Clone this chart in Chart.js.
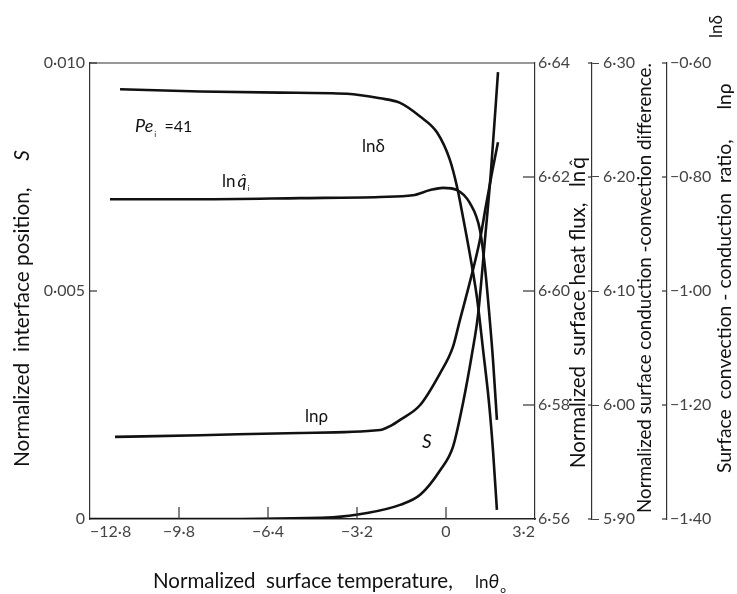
<!DOCTYPE html>
<html><head><meta charset="utf-8">
<script src="https://cdn.jsdelivr.net/npm/chart.js@4.4.0/dist/chart.umd.min.js"></script>
<style>html,body{margin:0;padding:0;background:#fff;}#wrap{width:737px;height:594px;}</style>
</head><body><div id="wrap"><canvas id="c" width="737" height="594"></canvas></div>
<script>
// ---- data ----
const xTicks = [-12.8, -9.6, -6.4, -3.2, 0, 3.2];
const xTickLabels = ['\u221212\u00b78', '\u22129\u00b78', '\u22126\u00b74', '\u22123\u00b72', '0', '3\u00b72'];
const sTicks = [0, 0.005, 0.010];
const sTickLabels = ['0', '0\u00b7005', '0\u00b7010'];
const qTicks = [6.56, 6.58, 6.60, 6.62, 6.64];
const qTickLabels = ['6\u00b756', '6\u00b758', '6\u00b760', '6\u00b762', '6\u00b764'];
const dTicks = [5.90, 6.00, 6.10, 6.20, 6.30];
const dTickLabels = ['5\u00b790', '6\u00b700', '6\u00b710', '6\u00b720', '6\u00b730'];
const rTicks = [-1.40, -1.20, -1.00, -0.80, -0.60];
const rTickLabels = ['\u22121\u00b740', '\u22121\u00b720', '\u22121\u00b700', '\u22120\u00b780', '\u22120\u00b760'];

// S : normalized interface position (left axis)
const xS    = [-12.8, -8.84, -4.06, -2.84, -1.65, -0.93, -0.21, 0.25, 0.61, 0.94, 1.15, 1.40, 1.62, 1.87];
const sVals = [0, 0, 0.00004, 0.00013, 0.00031, 0.00053, 0.00107, 0.00158, 0.00254, 0.00364, 0.00447, 0.00612, 0.00765, 0.00980];
// ln q-hat : normalized surface heat flux (axis 1)
const xQ    = [-12.08, -8.84, -5.25, -2.37, -1.19, -0.57, -0.11, 0.40, 0.86, 1.22, 1.40, 1.55, 1.69, 1.83];
const qVals = [6.6161, 6.6161, 6.6163, 6.6165, 6.6168, 6.6177, 6.6181, 6.6177, 6.6154, 6.6107, 6.6042, 6.5963, 6.5879, 6.5774];
// ln delta : conduction-convection difference (axis 2)
const xD    = [-11.72, -8.84, -5.97, -3.56, -2.37, -1.65, -0.93, -0.32, 0.14, 0.40, 0.61, 0.86, 1.12, 1.33, 1.55, 1.69, 1.83];
const dVals = [6.277, 6.275, 6.274, 6.273, 6.269, 6.265, 6.253, 6.239, 6.215, 6.191, 6.165, 6.132, 6.093, 6.049, 6.001, 5.960, 5.908];
// ln rho : convection-conduction ratio (axis 3)
const xR    = [-11.9, -8.84, -5.25, -2.37, -2.01, -1.65, -0.93, -0.21, 0.25, 0.50, 0.86, 1.22, 1.44, 1.66, 1.87];
const rVals = [-1.256, -1.253, -1.249, -1.244, -1.237, -1.226, -1.200, -1.144, -1.098, -1.051, -0.984, -0.910, -0.849, -0.791, -0.739];

const FONT = 'Lato, "DejaVu Sans", sans-serif';
const tickFont = { family: FONT, size: 16 };
const TICKCOL = '#444';
const pts = (xs, ys) => xs.map((x, i) => ({ x: x, y: ys[i] }));
const lab = (vals, labels) => (v) => labels[vals.indexOf(v)];
const setTicks = (vals) => (s) => { s.ticks = vals.map(v => ({ value: v })); };

function ds(data, axis) {
  return { data: data, yAxisID: axis, borderColor: '#111', borderWidth: 2.6, pointRadius: 0,
           fill: false, cubicInterpolationMode: 'monotone' };
}

function fnt(size, it) { return (it ? 'italic ' : '') + size + 'px ' + FONT; }
// runs: {t, s (size), it (italic), dx, dy, hat}
function drawRich(ctx, x, y, rot, runs, target, color) {
  ctx.save();
  let scale = 1;
  if (target) {
    let w = 0;
    runs.forEach(r => { ctx.font = fnt(r.s, r.it); w += ctx.measureText(r.t).width + (r.dx || 0); });
    scale = target / w;
  }
  ctx.translate(x, y); ctx.rotate(rot);
  ctx.textBaseline = 'alphabetic'; ctx.textAlign = 'left'; ctx.fillStyle = color || '#111';
  let cx = 0;
  runs.forEach(r => {
    const sz = r.s * scale;
    ctx.font = fnt(sz, r.it);
    const w = ctx.measureText(r.t).width;
    ctx.fillText(r.t, cx + (r.dx || 0), (r.dy || 0));
    if (r.hat) {
      ctx.save();
      ctx.font = fnt(sz * 0.8, false);
      ctx.textAlign = 'center';
      ctx.fillText('\u02c6', cx + (r.dx || 0) + w / 2 + (r.it ? 1.5 : 0), -sz * 0.12);
      ctx.restore();
    }
    cx += w + (r.dx || 0);
  });
  ctx.restore();
}

const decor = {
  id: 'decor',
  afterDraw(chart) {
    const { ctx, chartArea: a, scales } = chart;
    ctx.save();
    ctx.strokeStyle = '#333'; ctx.lineWidth = 1.2;
    const line = (x1, y1, x2, y2) => { ctx.beginPath(); ctx.moveTo(x1, y1); ctx.lineTo(x2, y2); ctx.stroke(); };
    line(a.left, a.top, a.right, a.top);
    xTicks.slice(1, -1).forEach(v => { const p = scales.x.getPixelForValue(v); line(p, a.bottom, p, a.bottom - 12); });
    sTicks.slice(1).forEach(v => { const p = scales.y.getPixelForValue(v); line(a.left, p, a.left + 7, p); });
    qTicks.slice(1, -1).forEach(v => { const p = scales.yq.getPixelForValue(v); line(a.right - 12, p, a.right, p); });
    dTicks.forEach(v => { const p = scales.yd.getPixelForValue(v); line(scales.yd.left - 4, p, scales.yd.left, p); });
    rTicks.forEach(v => { const p = scales.yr.getPixelForValue(v); line(scales.yr.left - 5, p, scales.yr.left, p); });
    ctx.restore();

    const R = -Math.PI / 2;
    // axis titles
    drawRich(ctx, 29, 467, R, [{ t: 'Normalized  interface position,     ', s: 17 }, { t: 'S', s: 17, it: true }], 317);
    drawRich(ctx, 153, 588, 0, [{ t: 'Normalized  surface temperature,', s: 17 }], 300);
    drawRich(ctx, 475, 588, 0, [{ t: 'ln', s: 17 }, { t: '\u03b8', s: 19, it: true }, { t: 'o', s: 10, dy: 5, dx: 1 }]);
    drawRich(ctx, 585, 468, R, [{ t: 'Normalized  surface heat flux,   ln', s: 16 }, { t: 'q', s: 17, dx: 2, hat: true }], 312);
    drawRich(ctx, 651, 513, R, [{ t: 'Normalized surface conduction -convection difference.', s: 16 }], 450);
    drawRich(ctx, 722, 38, R, [{ t: 'ln\u03b4', s: 17 }]);
    drawRich(ctx, 731, 473, R, [{ t: 'Surface  convection - conduction  ratio,      ln\u03c1', s: 16 }], 390);

    // in-plot annotations
    drawRich(ctx, 135, 132, 0, [{ t: 'Pe', s: 18, it: true }, { t: 'i', s: 8, dy: 5, dx: 1 }, { t: '  =41', s: 16 }]);
    drawRich(ctx, 222, 187, 0, [{ t: 'ln', s: 17 }, { t: 'q', s: 18, it: true, dx: 2, hat: true }, { t: 'i', s: 8, dy: 4, dx: 1 }]);
    drawRich(ctx, 362, 152, 0, [{ t: 'ln\u03b4', s: 17 }]);
    drawRich(ctx, 305, 422, 0, [{ t: 'ln\u03c1', s: 17 }]);
    drawRich(ctx, 422, 448, 0, [{ t: 'S', s: 19, it: true }]);
  }
};

new Chart(document.getElementById('c'), {
  type: 'line',
  data: {
    datasets: [
      ds(pts(xD, dVals), 'yd'),
      ds(pts(xQ, qVals), 'yq'),
      ds(pts(xR, rVals), 'yr'),
      ds(pts(xS, sVals), 'y')
    ]
  },
  options: {
    responsive: false, animation: false, devicePixelRatio: 1,
    layout: { padding: { top: 63, left: 0, right: 0, bottom: 0 } },
    plugins: { legend: { display: false }, tooltip: { enabled: false } },
    scales: {
      x: {
        type: 'linear', position: 'bottom', min: -12.8, max: 3.2,
        afterBuildTicks: setTicks(xTicks), afterFit: (s) => { s.height = 75; },
        grid: { display: true, drawOnChartArea: false, drawTicks: false },
        border: { display: true, color: '#222', width: 1.6 },
        ticks: { autoSkip: false, maxRotation: 0, align: 'inner', padding: 3, color: TICKCOL, font: tickFont, callback: lab(xTicks, xTickLabels) }
      },
      y: {
        type: 'linear', position: 'left', min: 0, max: 0.010,
        afterBuildTicks: setTicks(sTicks), afterFit: (s) => { s.width = 90; },
        grid: { display: true, drawOnChartArea: false, drawTicks: false },
        border: { display: true, color: '#333', width: 1.2 },
        ticks: { autoSkip: false, padding: 5, color: TICKCOL, font: tickFont, callback: lab(sTicks, sTickLabels) }
      },
      yq: {
        type: 'linear', position: 'right', min: 6.56, max: 6.64,
        afterBuildTicks: setTicks(qTicks), afterFit: (s) => { s.width = 57; },
        grid: { display: true, drawOnChartArea: false, drawTicks: false },
        border: { display: true, color: '#333', width: 1.2 },
        ticks: { autoSkip: false, padding: 3, color: TICKCOL, font: tickFont, callback: lab(qTicks, qTickLabels) }
      },
      yd: {
        type: 'linear', position: 'right', min: 5.90, max: 6.30,
        afterBuildTicks: setTicks(dTicks), afterFit: (s) => { s.width = 75; },
        grid: { display: true, drawOnChartArea: false, drawTicks: true, tickLength: 7, color: '#444' },
        border: { display: true, color: '#333', width: 1.2 },
        ticks: { autoSkip: false, padding: 4, color: TICKCOL, font: tickFont, callback: lab(dTicks, dTickLabels) }
      },
      yr: {
        type: 'linear', position: 'right', min: -1.40, max: -0.60,
        afterBuildTicks: setTicks(rTicks), afterFit: (s) => { s.width = 70; },
        grid: { display: true, drawOnChartArea: false, drawTicks: false },
        border: { display: true, color: '#333', width: 1.2 },
        ticks: { autoSkip: false, padding: 3, color: TICKCOL, font: tickFont, callback: lab(rTicks, rTickLabels) }
      }
    }
  },
  plugins: [decor]
});
</script>
</body></html>
